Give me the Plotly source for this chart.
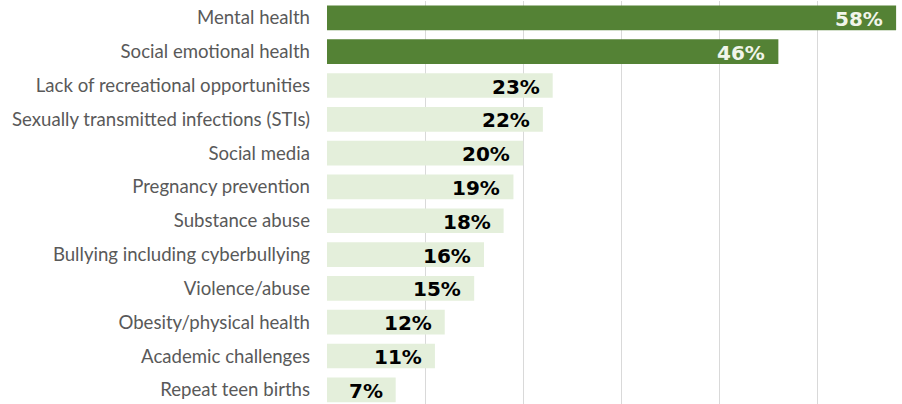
import plotly.graph_objects as go

categories = [
    "Mental health",
    "Social emotional health",
    "Lack of recreational opportunities",
    "Sexually transmitted infections (STIs)",
    "Social media",
    "Pregnancy prevention",
    "Substance abuse",
    "Bullying including cyberbullying",
    "Violence/abuse",
    "Obesity/physical health",
    "Academic challenges",
    "Repeat teen births",
]
values = [58, 46, 23, 22, 20, 19, 18, 16, 15, 12, 11, 7]
highlight = [True, True] + [False] * 10

DARK = "#548235"
LIGHT = "#e4efdb"

colors = [DARK if h else LIGHT for h in highlight]

fig = go.Figure()
fig.add_trace(go.Bar(
    x=values,
    y=categories,
    orientation="h",
    marker=dict(color=colors, line=dict(width=0)),
    hoverinfo="skip",
))

for c, v, h in zip(categories, values, highlight):
    fig.add_annotation(
        x=v, y=c, xref="x", yref="y",
        text=f"{v}%",
        showarrow=False,
        xanchor="right",
        yanchor="middle",
        xshift=-11,
        yshift=-1,
        font=dict(family="DejaVu Sans", size=20, color="#f0f5ea" if h else "#000000", weight="bold"),
    )

fig.update_layout(
    width=902,
    height=404,
    margin=dict(l=327, r=0, t=1, b=0),
    paper_bgcolor="white",
    plot_bgcolor="white",
    bargap=0.27,
    showlegend=False,
    xaxis=dict(
        range=[0, 58.6],
        dtick=10,
        showgrid=True,
        gridcolor="#d9d9d9",
        gridwidth=1,
        zeroline=False,
        showticklabels=False,
        showline=False,
    ),
    yaxis=dict(
        categoryorder="array",
        categoryarray=categories,
        range=[11.42, -0.5],
        showgrid=False,
        zeroline=False,
        showline=False,
        ticks="",
        ticklabelstandoff=16,
        tickfont=dict(family="Lato", size=18.6, color="#595959"),
    ),
)

fig.write_html("out.html")
